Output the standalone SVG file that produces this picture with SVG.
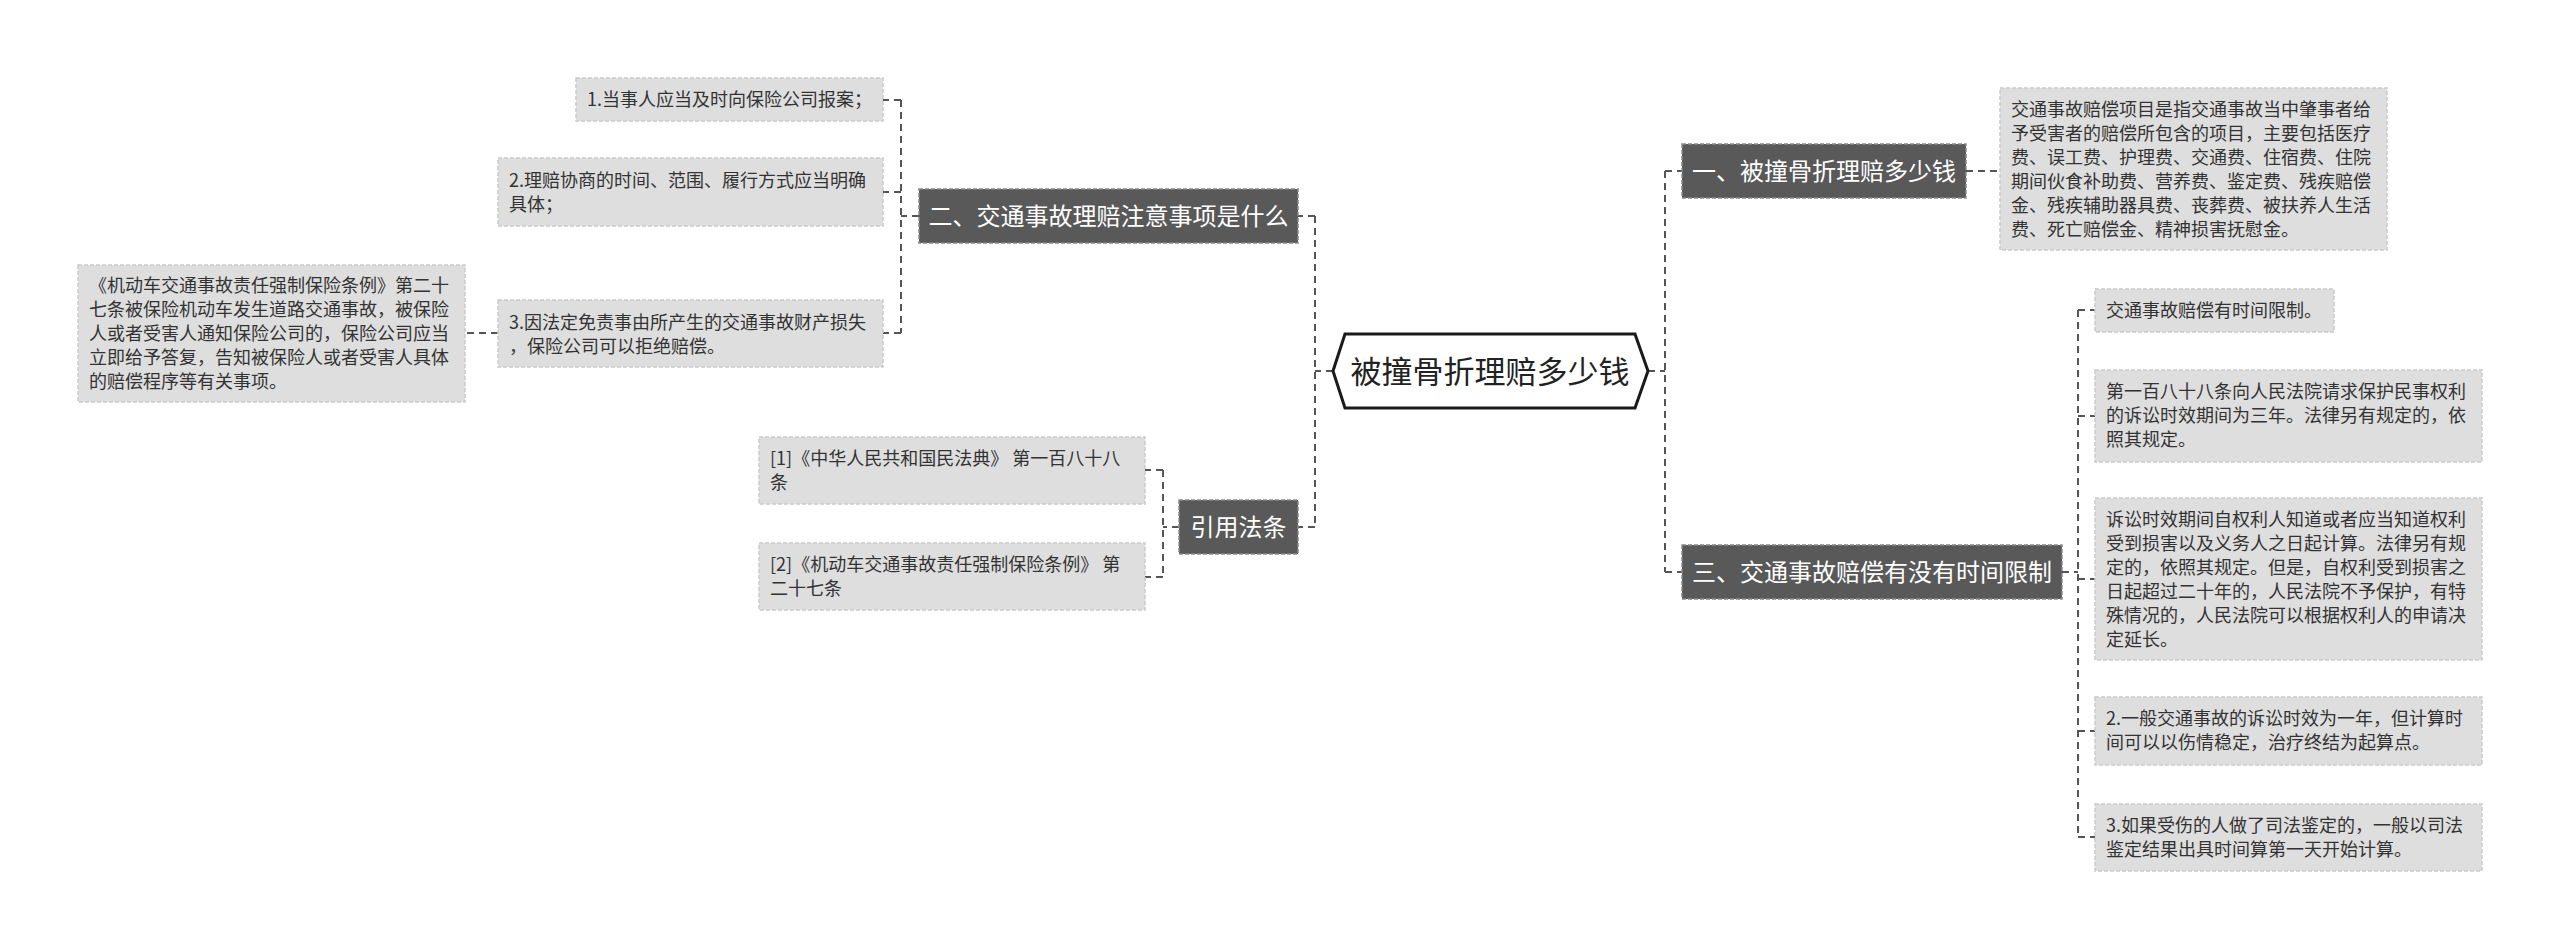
<svg xmlns="http://www.w3.org/2000/svg" width="2560" height="949" viewBox="0 0 2560 949">
<style>
.conn{fill:none;stroke:#555;stroke-width:2;stroke-dasharray:7 5}
.topic rect{fill:#595959;stroke:#8a8a8a;stroke-width:1.5;stroke-dasharray:4 2}
.topic text{fill:#fff;font-family:"Noto Sans CJK SC","Noto Sans",sans-serif;font-size:24px;text-anchor:middle}
.leaf rect{fill:#dedede;stroke:#cacaca;stroke-width:1.5;stroke-dasharray:4 2}
.leaf text{fill:#333;font-family:"Noto Sans CJK SC","Noto Sans",sans-serif;font-size:18px}
.center polygon{fill:#fff;stroke:#1a1a1a;stroke-width:3}
.center text{fill:#222;font-family:"Noto Sans CJK SC","Noto Sans",sans-serif;font-size:31px;text-anchor:middle}
</style>
<rect width="2560" height="949" fill="#fff"/>
<g id="connectors">
<path class="conn" d="M1333,371 H1315 M1315,216 V527 M1315,216 H1298 M1315,527 H1298"/>
<path class="conn" d="M919,216 H901 M901,100 V333 M901,100 H883 M901,192 H883 M901,333 H883"/>
<path class="conn" d="M498,333 H465"/>
<path class="conn" d="M1179,527 H1163 M1163,470 V577 M1163,470 H1145 M1163,577 H1145"/>
<path class="conn" d="M1648,371 H1665 M1665,171 V572 M1665,171 H1682 M1665,572 H1682"/>
<path class="conn" d="M1966,171 H2000"/>
<path class="conn" d="M2062,572 H2078 M2078,310 V837 M2078,310 H2095 M2078,416 H2095 M2078,579 H2095 M2078,731 H2095 M2078,837 H2095"/>
</g>
<g id="root" class="center">
<polygon points="1333,371 1345,334 1635,334 1648,371 1635,408 1345,408"/>
<text x="1490" y="383">被撞骨折理赔多少钱</text>
</g>
<g id="topic2" class="topic">
<rect x="919" y="189" width="379" height="54"/>
<text x="1108.5" y="225">二、交通事故理赔注意事项是什么</text>
</g>
<g id="topic-ref" class="topic">
<rect x="1179" y="500" width="119" height="54"/>
<text x="1238.5" y="536">引用法条</text>
</g>
<g id="topic1" class="topic">
<rect x="1682" y="144" width="284" height="54"/>
<text x="1824" y="180">一、被撞骨折理赔多少钱</text>
</g>
<g id="topic3" class="topic">
<rect x="1682" y="545" width="380" height="54"/>
<text x="1872" y="581">三、交通事故赔偿有没有时间限制</text>
</g>
<g id="leaf2-1" class="leaf">
<rect x="576" y="78" width="307" height="43"/>
<text x="587" y="106">1.当事人应当及时向保险公司报案；</text>
</g>
<g id="leaf2-2" class="leaf">
<rect x="498" y="158" width="385" height="68"/>
<text x="509" y="187">2.理赔协商的时间、范围、履行方式应当明确<tspan x="509" y="211">具体；</tspan></text>
</g>
<g id="leaf2-3" class="leaf">
<rect x="498" y="300" width="385" height="67"/>
<text x="509" y="329">3.因法定免责事由所产生的交通事故财产损失<tspan x="509" y="353">，保险公司可以拒绝赔偿。</tspan></text>
</g>
<g id="leaf2-3-1" class="leaf">
<rect x="78" y="265" width="387" height="137"/>
<text x="89" y="292">《机动车交通事故责任强制保险条例》第二十<tspan x="89" y="316">七条被保险机动车发生道路交通事故，被保险</tspan><tspan x="89" y="340">人或者受害人通知保险公司的，保险公司应当</tspan><tspan x="89" y="364">立即给予答复，告知被保险人或者受害人具体</tspan><tspan x="89" y="388">的赔偿程序等有关事项。</tspan></text>
</g>
<g id="ref1" class="leaf">
<rect x="759" y="437" width="386" height="67"/>
<text x="770" y="465">[1]《中华人民共和国民法典》 第一百八十八<tspan x="770" y="489">条</tspan></text>
</g>
<g id="ref2" class="leaf">
<rect x="759" y="543" width="386" height="67"/>
<text x="770" y="571">[2]《机动车交通事故责任强制保险条例》 第<tspan x="770" y="595">二十七条</tspan></text>
</g>
<g id="detail1" class="leaf">
<rect x="2000" y="88" width="387" height="162"/>
<text x="2011" y="116">交通事故赔偿项目是指交通事故当中肇事者给<tspan x="2011" y="140">予受害者的赔偿所包含的项目，主要包括医疗</tspan><tspan x="2011" y="164">费、误工费、护理费、交通费、住宿费、住院</tspan><tspan x="2011" y="188">期间伙食补助费、营养费、鉴定费、残疾赔偿</tspan><tspan x="2011" y="212">金、残疾辅助器具费、丧葬费、被扶养人生活</tspan><tspan x="2011" y="236">费、死亡赔偿金、精神损害抚慰金。</tspan></text>
</g>
<g id="detail3-a" class="leaf">
<rect x="2095" y="289" width="239" height="43"/>
<text x="2106" y="317">交通事故赔偿有时间限制。</text>
</g>
<g id="detail3-b" class="leaf">
<rect x="2095" y="370" width="387" height="92"/>
<text x="2106" y="398">第一百八十八条向人民法院请求保护民事权利<tspan x="2106" y="422">的诉讼时效期间为三年。法律另有规定的，依</tspan><tspan x="2106" y="446">照其规定。</tspan></text>
</g>
<g id="detail3-c" class="leaf">
<rect x="2095" y="498" width="387" height="162"/>
<text x="2106" y="526">诉讼时效期间自权利人知道或者应当知道权利<tspan x="2106" y="550">受到损害以及义务人之日起计算。法律另有规</tspan><tspan x="2106" y="574">定的，依照其规定。但是，自权利受到损害之</tspan><tspan x="2106" y="598">日起超过二十年的，人民法院不予保护，有特</tspan><tspan x="2106" y="622">殊情况的，人民法院可以根据权利人的申请决</tspan><tspan x="2106" y="646">定延长。</tspan></text>
</g>
<g id="detail3-d" class="leaf">
<rect x="2095" y="697" width="387" height="68"/>
<text x="2106" y="725">2.一般交通事故的诉讼时效为一年，但计算时<tspan x="2106" y="749">间可以以伤情稳定，治疗终结为起算点。</tspan></text>
</g>
<g id="detail3-e" class="leaf">
<rect x="2095" y="804" width="387" height="67"/>
<text x="2106" y="832">3.如果受伤的人做了司法鉴定的，一般以司法<tspan x="2106" y="856">鉴定结果出具时间算第一天开始计算。</tspan></text>
</g>
</svg>
